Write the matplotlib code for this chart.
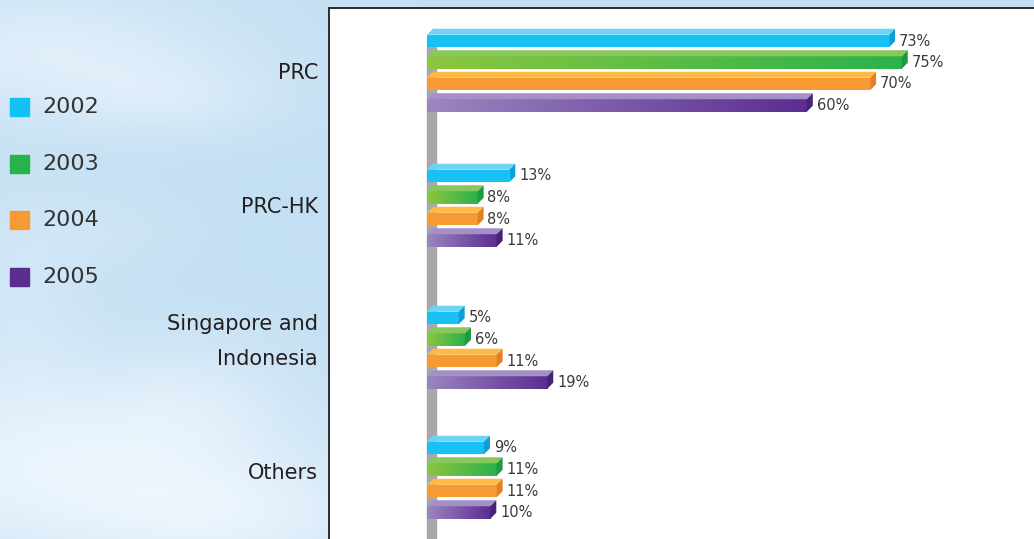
import numpy as np
import matplotlib.pyplot as plt
from matplotlib.patches import Rectangle, Polygon
from matplotlib.colors import LinearSegmentedColormap

# data
categories = ["PRC", "PRC-HK", "Singapore and\nIndonesia", "Others"]
years = ["2002", "2003", "2004", "2005"]
share_2002 = [73, 13, 5, 9]
share_2003 = [75, 8, 6, 11]
share_2004 = [70, 8, 11, 11]
share_2005 = [60, 11, 19, 10]
series = [share_2002, share_2003, share_2004, share_2005]

# styles: face left, face right, top, side, legend swatch
styles = [
    ("#17c1f3", "#17c1f3", "#6fd2f6", "#0f9fd6", "#13c2f4"),
    ("#8dc63f", "#2bb24c", "#86c85a", "#1f9a42", "#27b24a"),
    ("#f89a34", "#f89a34", "#fdba45", "#e57f27", "#f89a34"),
    ("#9c86c0", "#5b2d90", "#a490c7", "#472378", "#5c2d91"),
]

W, H = 1034, 539
PX_PER = 6.33          # pixels per percent
ZERO_X = 427           # pixel of 0 %
PANEL_X, PANEL_Y = 328, 8
GROUP_TOP = [41, 176, 318, 448]
BAR_STEP = 21.5
BAR_H = 12.5
DX = 6 / PX_PER
DH = 6
LABEL_SHIFT = [0, -1, -9, -7]

fig = plt.figure(figsize=(W / 100, H / 100), dpi=100)

# background axes in pixel units
bg = fig.add_axes([0, 0, 1, 1])
bg.set_xlim(0, W)
bg.set_ylim(H, 0)
bg.axis("off")

# soft sky with clouds
yy, xx = np.mgrid[0:H, 0:W]
base = np.array([0.77, 0.878, 0.955])
cloud = np.zeros((H, W))
for cx, cy, sx, sy, a in [(40, 50, 130, 45, 0.5), (170, 100, 80, 30, 0.3),
                          (60, 470, 170, 70, 0.7), (250, 520, 110, 40, 0.4),
                          (20, 300, 50, 80, 0.25), (190, 400, 70, 45, 0.25),
                          (110, 230, 60, 30, 0.15)]:
    cloud += a * np.exp(-((xx - cx) ** 2 / (2 * sx ** 2) + (yy - cy) ** 2 / (2 * sy ** 2)))
cloud = np.clip(cloud, 0, 1)[..., None]
sky = base * (1 - cloud) + np.array([0.97, 0.985, 1.0]) * cloud
bg.imshow(sky, extent=(0, W, H, 0), aspect="auto", zorder=0)

bg.add_patch(Rectangle((PANEL_X + 0.5, PANEL_Y - 0.5), W, H, facecolor="white",
                       edgecolor="#2b2b2b", lw=1.4, zorder=1))

# legend
for k, yr in enumerate(years):
    cy = 107 + k * 56.7
    bg.add_patch(Rectangle((10, cy - 9), 19, 18, color=styles[k][4], zorder=2))
    bg.text(42, cy, yr, fontsize=16, color="#333333", va="center", ha="left", zorder=2)

# category labels
for g, cat in enumerate(categories):
    cy = GROUP_TOP[g] + 1.5 * BAR_STEP + LABEL_SHIFT[g]
    bg.text(318, cy, cat, fontsize=15, color="#231f20", ha="right", va="center",
            multialignment="right", linespacing=1.95, zorder=2)

# bar axes
ax = fig.add_axes([PANEL_X / W, 0, (W - PANEL_X) / W, (H - PANEL_Y) / H])
ax.patch.set_visible(False)
ax.axis("off")

ax.add_patch(Rectangle((0, 46), 9 / PX_PER, H, color="#a7a8ab", zorder=1))

grad = np.linspace(0, 1, 256)[None, :]
for i, vals in enumerate(series):
    face_l, face_r, top_c, side_c, _ = styles[i]
    ys = [GROUP_TOP[g] + i * BAR_STEP for g in range(len(categories))]
    bars = ax.barh(ys, vals, height=BAR_H, color=face_l, zorder=3)
    for y, v, bar in zip(ys, vals, bars):
        if face_l != face_r:
            cmap = LinearSegmentedColormap.from_list("g", [face_l, face_r])
            im = ax.imshow(grad, cmap=cmap, extent=(0, v, y + BAR_H / 2, y - BAR_H / 2),
                           aspect="auto", zorder=3.5)
            im.set_clip_path(bar)
        t = y - BAR_H / 2
        ax.add_patch(Polygon([(0, t), (v, t), (v + DX, t - DH), (DX, t - DH)],
                             closed=True, color=top_c, zorder=4, lw=0))
        ax.add_patch(Polygon([(v, t + BAR_H), (v, t), (v + DX, t - DH), (v + DX, t + BAR_H - DH)],
                             closed=True, color=side_c, zorder=4, lw=0))
        ax.text(v + DX + 0.6, y, f"{v}%", fontsize=10.5, color="#3a3a3a",
                ha="left", va="center", zorder=5)

ax.set_xlim(-(ZERO_X - PANEL_X) / PX_PER, (W - ZERO_X) / PX_PER)
ax.set_ylim(H, PANEL_Y)

fig.savefig("out.png", dpi=100)
